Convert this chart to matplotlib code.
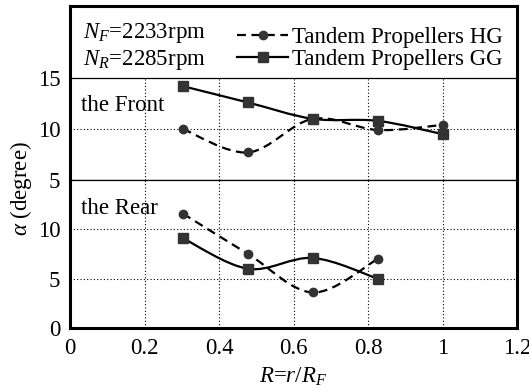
import numpy as np
import matplotlib
matplotlib.use("Agg")
import matplotlib.pyplot as plt
from matplotlib.path import Path
from matplotlib.patches import PathPatch
from matplotlib.lines import Line2D

plt.rcParams['font.family'] = ['Liberation Serif', 'DejaVu Serif']
plt.rcParams['mathtext.fontset'] = 'custom'
plt.rcParams['mathtext.rm'] = 'Liberation Serif'
plt.rcParams['mathtext.it'] = 'Liberation Serif:italic'
plt.rcParams['font.size'] = 16.5

# Radial positions (R = r/R_F)
r_front = [0.303, 0.478, 0.652, 0.826, 1.0]
r_rear = [0.303, 0.478, 0.652, 0.826]

# Inflow angle alpha (degree)
front_hg = [10.0, 7.7, 11.0, 9.9, 10.4]
front_gg = [14.2, 12.6, 11.0, 10.8, 9.5]
rear_hg = [11.6, 7.5, 3.6, 7.0]
rear_gg = [9.1, 6.0, 7.1, 5.0]

labels = ['Tandem Propellers HG', 'Tandem Propellers GG']
x_ticks = [0, 0.2, 0.4, 0.6, 0.8, 1, 1.2]
x_ticklabels = ['0', '0.2', '0.4', '0.6', '0.8', '1', '1.2']

DARK = '#333333'


def smooth_path(x, y, t=1/6):
    # cubic Bezier segments through the points (Catmull-Rom style tangents)
    p = np.column_stack([x, y]).astype(float)
    ext = np.vstack([p[0], p, p[-1]])
    verts = [p[0]]
    codes = [Path.MOVETO]
    for i in range(len(p) - 1):
        a, b, c, d = ext[i], ext[i + 1], ext[i + 2], ext[i + 3]
        verts += [b + (c - a) * t, c - (d - b) * t, c]
        codes += [Path.CURVE4] * 3
    return Path(verts, codes)


def draw_series(ax, x, y, ls, marker, ms):
    ax.add_patch(PathPatch(smooth_path(x, y), fill=False, lw=1.6,
                           ls=ls, edgecolor='black', zorder=3))
    ax.plot(x, y, ls='none', marker=marker, ms=ms, color=DARK, zorder=4)


fig = plt.figure(figsize=(5.29, 3.91), dpi=100)
left, right = 70 / 529, 517 / 529
bot, mid, top = 1 - 328 / 391, 1 - 180 / 391, 1 - 6 / 391
ax_top = fig.add_axes([left, mid, right - left, top - mid])
ax_bot = fig.add_axes([left, bot, right - left, mid - bot], sharex=ax_top)

ax_top.set_ylim(5, 22.06)
ax_bot.set_ylim(0, 15)
ax_bot.set_xlim(0, 1.2)

grid_kw = dict(color='black', lw=0.8, ls=(0, (1, 2)), zorder=1)
for xv in x_ticks[1:-1]:
    ax_top.plot([xv, xv], [5, 15], **grid_kw)
    ax_bot.axvline(xv, **grid_kw)
ax_top.axhline(10, **grid_kw)
for yv in [5, 10]:
    ax_bot.axhline(yv, **grid_kw)
ax_top.axhline(15, color='black', lw=0.9, zorder=2)

draw_series(ax_top, r_front, front_hg, (0, (4, 2.5)), 'o', 6)
draw_series(ax_top, r_front, front_gg, '-', 's', 6.5)
draw_series(ax_bot, r_rear, rear_hg, (0, (4, 2.5)), 'o', 6)
draw_series(ax_bot, r_rear, rear_gg, '-', 's', 6.5)

for ax in (ax_top, ax_bot):
    for s in ax.spines.values():
        s.set_linewidth(2.2)
    ax.tick_params(length=0, pad=7)
ax_top.spines['bottom'].set_linewidth(0.9)
ax_bot.spines['top'].set_linewidth(0.9)

ax_top.set_yticks([5, 10, 15])
ax_bot.set_yticks([0, 5, 10])
ax_top.tick_params(labelbottom=False)
ax_bot.set_xticks(x_ticks)
ax_bot.set_xticklabels(x_ticklabels)

ax_top.text(0.03, 12.3, 'the Front', va='center', ha='left')
ax_bot.text(0.03, 12.1, 'the Rear', va='center', ha='left')
ax_top.text(0.035, 19.4, r'$N_F$=2233rpm', va='center', ha='left')
ax_top.text(0.035, 16.8, r'$N_R$=2285rpm', va='center', ha='left')

handles = [
    Line2D([], [], color='black', lw=1.6, ls=(0, (4, 2.5)), marker='o', ms=6,
           markerfacecolor=DARK, markeredgecolor=DARK),
    Line2D([], [], color='black', lw=1.6, ls='-', marker='s', ms=6.5,
           markerfacecolor=DARK, markeredgecolor=DARK),
]
ax_top.legend(handles, labels, loc='upper right', bbox_to_anchor=(1.0, 0.96),
              frameon=False, handlelength=2.2, handletextpad=0.2,
              labelspacing=0.05, borderaxespad=0.2)

fig.text(21 / 529, 1 - 189 / 391, r'$\alpha$ (degree)', rotation=90,
         ha='center', va='center')
fig.text((left + right) / 2, 1 - 377 / 391, r'$R$=$r$/$R_F$',
         ha='center', va='center')

fig.savefig('out.png', dpi=100)
